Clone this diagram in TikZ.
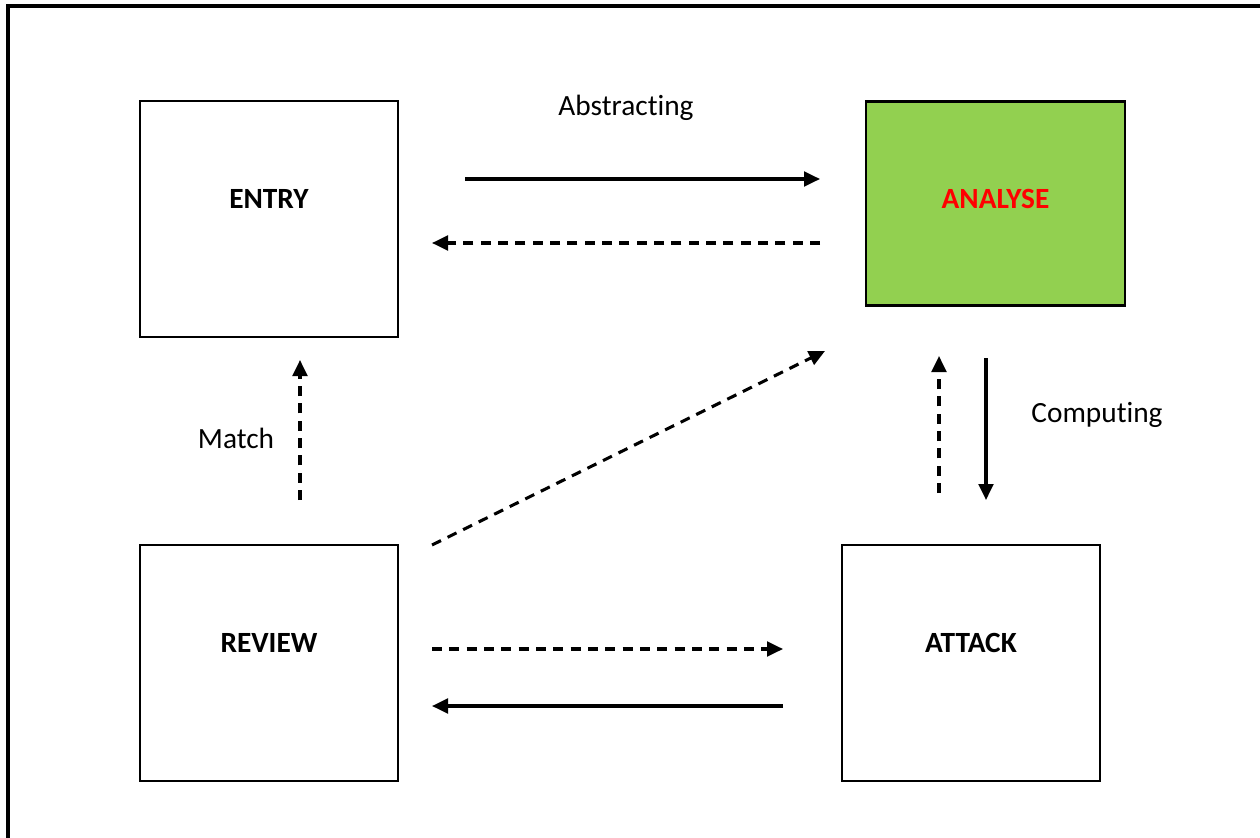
\documentclass[tikz,border=0pt]{standalone}
\usepackage{fontspec}
\setmainfont{Carlito}[Ligatures=NoCommon]
\usetikzlibrary{arrows.meta}
\definecolor{boxgreen}{HTML}{92D050}
\definecolor{txtred}{HTML}{FF0000}
\tikzset{
  stagebox/.style={draw=black, line width=1.6pt, minimum width=193.5pt, minimum height=177pt, inner sep=0pt},
  stagename/.style={font=\fontsize{22}{26}\selectfont\bfseries, inner sep=0pt},
  flowlabel/.style={font=\fontsize{22}{26}\selectfont, inner sep=0pt},
  flow/.style={line width=2.3pt, -{Triangle[length=12pt,width=11pt]}},
  backflow/.style={flow, dash pattern=on 7.5pt off 5.5pt},
}
\begin{document}
\begin{tikzpicture}[x=0.75pt, y=-0.75pt]
\useasboundingbox (0,0) rectangle (1260,838);
\clip (0,0) rectangle (1260,838);
% page frame
\draw[line width=2.4pt] (1270,6) -- (8,6) -- (8,850);

% the four stages
\node[stagebox] (entry) at (269,219) {};
\node[stagebox, fill=boxgreen, minimum height=153pt, minimum width=194pt] (analyse) at (995.5,203.5) {};
\node[stagebox] (review) at (269,663) {};
\node[stagebox] (attack) at (971,663) {};

\node[stagename] (entrytxt) at (269,199) {ENTRY};
\node[stagename, text=txtred] (analysetxt) at (995.5,199) {ANALYSE};
\node[stagename] (reviewtxt) at (269,643) {REVIEW};
\node[stagename] (attacktxt) at (971,643) {ATTACK};

% connector end points
\coordinate (absA) at (465,179);
\coordinate (absB) at (820,179);
\coordinate (retA) at (820,243);
\coordinate (retB) at (432,243);
\coordinate (diaA) at (432,545);
\coordinate (diaB) at (825,351);
\coordinate (upA) at (939,493);
\coordinate (upB) at (939,356);
\coordinate (dnA) at (986,358);
\coordinate (dnB) at (986,500);
\coordinate (mA) at (300,500);
\coordinate (mB) at (300,360);
\coordinate (raA) at (432,649);
\coordinate (raB) at (783,649);
\coordinate (arA) at (783,706);
\coordinate (arB) at (432,706);

\draw[flow] (absA) -- (absB);
\draw[backflow] (retA) -- (retB);
\draw[backflow] (diaA) -- (diaB);
\draw[backflow] (upA) -- (upB);
\draw[flow] (dnA) -- (dnB);
\draw[backflow] (mA) -- (mB);
\draw[backflow] (raA) -- (raB);
\draw[flow] (arA) -- (arB);

% labels
\node[flowlabel] (abslbl) at (626,108) {Abstracting};
\node[flowlabel] (complbl) at (1097,415) {Computing};
\node[flowlabel] (matchlbl) at (236,438) {Match};
\end{tikzpicture}
\end{document}
